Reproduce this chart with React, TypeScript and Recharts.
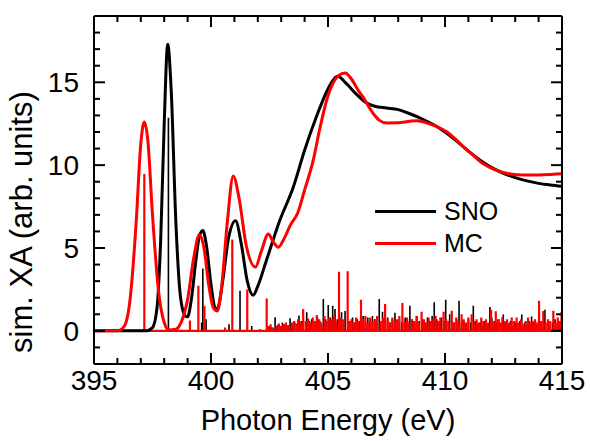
import { ComposedChart, Line, ReferenceLine, XAxis, YAxis } from "recharts";

const FONT = "'Liberation Sans', Arial, sans-serif";
const SNO_COLOR = "#000000";
const MC_COLOR = "#ff0000";

const X_DOMAIN: [number, number] = [395, 415];
const Y_DOMAIN: [number, number] = [-2, 19];
const X_TICKS = [395, 400, 405, 410, 415];
const Y_TICKS = [0, 5, 10, 15];
const X_MINOR = [395, 396, 397, 398, 399, 400, 401, 402, 403, 404, 405, 406, 407, 408, 409, 410, 411, 412, 413, 414, 415];
const Y_MINOR = [-2, -1, 0, 1, 2, 3, 4, 5, 6, 7, 8, 9, 10, 11, 12, 13, 14, 15, 16, 17, 18, 19];

// broadened spectra [energy, intensity]
const SNO_CURVE: [number, number][] = [
  [395, 0], [397.2, 0], [397.5, 0.2], [397.7, 1.5], [397.85, 5.5], [398.0, 12.5],
  [398.15, 17.3], [398.3, 14.5], [398.5, 6.5], [398.7, 2.0], [398.9, 0.9], [399.0, 0.85],
  [399.15, 1.8], [399.35, 4.2], [399.5, 5.7], [399.65, 6.05], [399.8, 5.2], [400.0, 2.8],
  [400.2, 1.3], [400.3, 1.4], [400.5, 3.0], [400.75, 5.6], [401.05, 6.65], [401.3, 5.2],
  [401.55, 3.0], [401.8, 2.15], [402.0, 2.7], [402.38, 4.3], [402.95, 6.7], [403.5, 8.6],
  [404.0, 10.9], [404.5, 12.9], [405.0, 14.6], [405.4, 15.36],
  [405.8, 14.9], [406.2, 14.3], [406.6, 13.8], [407.0, 13.55], [407.5, 13.45], [408.0, 13.35],
  [408.5, 13.1], [409.0, 12.8], [409.5, 12.45], [410.0, 12.0], [410.5, 11.45], [411.0, 10.85],
  [411.5, 10.3], [412.0, 9.85], [412.5, 9.5], [413.0, 9.25], [413.5, 9.05], [414.0, 8.9],
  [414.5, 8.8], [415, 8.72],
];

const MC_CURVE: [number, number][] = [
  [395, 0], [396.0, 0], [396.3, 0.3], [396.55, 2.0], [396.8, 6.5], [397.0, 11.3],
  [397.15, 12.6], [397.3, 11.5], [397.5, 7.0], [397.75, 2.5], [398.0, 0.5], [398.2, 0.05],
  [398.5, 0.1], [398.75, 0.6], [399.0, 1.9], [399.25, 4.3], [399.5, 5.8], [399.7, 5.0],
  [399.9, 2.8], [400.1, 1.4], [400.27, 1.2], [400.45, 2.6], [400.7, 6.6], [400.95, 9.35],
  [401.2, 8.0], [401.5, 5.2], [401.9, 3.85], [402.15, 4.8], [402.45, 5.85], [402.65, 5.4],
  [402.88, 5.05], [403.1, 5.5], [403.4, 6.4], [403.7, 7.1], [404.0, 8.5], [404.37, 10.3],
  [404.65, 12.2], [404.94, 13.9], [405.2, 14.9], [405.45, 15.4], [405.73, 15.56],
  [406.0, 15.2], [406.3, 14.5], [406.5, 14.1], [406.94, 13.1], [407.2, 12.7], [407.5, 12.55],
  [408.0, 12.56], [408.5, 12.65], [408.8, 12.68], [409.36, 12.48], [410.07, 12.02],
  [410.5, 11.5], [410.78, 11.12], [411.2, 10.6], [411.64, 10.08], [412.0, 9.8], [412.49, 9.56],
  [413.06, 9.42], [413.6, 9.4], [414.2, 9.42], [415, 9.48],
];

// stick spectra [energy, oscillator strength]
const SNO_STICKS: [number, number][] = [
  [398.18, 12.86], [399.6, 0.5], [399.65, 3.76], [399.79, 0.7], [400.77, 0.4], [401.24, 2.42],
  [401.74, 0.3], [402.1, 0.1], [402.5, 0.3], [402.6, 0.2], [402.74, 0.82], [402.85, 0.35],
  [402.95, 0.3], [403.05, 0.5], [403.15, 0.4], [403.25, 0.3], [403.38, 0.76], [403.48, 0.45],
  [403.58, 0.5], [403.68, 0.4], [403.76, 0.92], [403.86, 0.6], [404.09, 1.12], [404.2, 0.6],
  [404.3, 0.7], [404.42, 0.5], [404.55, 0.8], [404.65, 0.6], [404.8, 1.92], [404.9, 0.7],
  [405.01, 1.56], [405.1, 0.8], [405.2, 1.52], [405.3, 1.32], [405.4, 0.7], [405.58, 1.12],
  [405.73, 1.2], [405.95, 0.6], [406.05, 0.8], [406.15, 0.5], [406.25, 0.7], [406.35, 0.6],
  [406.5, 0.9], [406.6, 0.5], [406.7, 0.8], [406.8, 0.6], [406.9, 0.9], [407.0, 0.7],
  [407.1, 0.8], [407.19, 1.92], [407.33, 1.16], [407.45, 0.6], [407.55, 0.8], [407.65, 0.5],
  [407.75, 0.7], [407.86, 1.1], [407.95, 0.6], [408.05, 0.7], [408.15, 0.5], [408.3, 0.8],
  [408.4, 0.6], [408.5, 1.52], [408.6, 0.7], [408.7, 0.5], [408.8, 0.9], [408.9, 0.6],
  [409.05, 0.7], [409.15, 0.5], [409.25, 0.8], [409.35, 0.6], [409.45, 0.9], [409.54, 1.72],
  [409.65, 0.7], [409.75, 0.5], [409.85, 0.8], [409.95, 0.6], [410.03, 1.88], [410.2, 1.0],
  [410.3, 0.6], [410.4, 0.5], [410.5, 0.7], [410.6, 1.82], [410.7, 0.5], [410.8, 0.6],
  [410.9, 0.4], [411.0, 0.7], [411.1, 0.5], [411.21, 1.52], [411.3, 0.6], [411.4, 0.4],
  [411.5, 0.5], [411.6, 0.3], [411.7, 0.6], [411.8, 0.4], [411.92, 1.44], [412.0, 0.8],
  [412.1, 0.6], [412.2, 0.5], [412.3, 0.7], [412.4, 0.4], [412.49, 0.98], [412.6, 0.5],
  [412.7, 0.4], [412.8, 0.6], [412.9, 0.3], [413.0, 0.5], [413.1, 0.4], [413.2, 0.6],
  [413.28, 0.98], [413.4, 0.5], [413.5, 0.4], [413.6, 0.6], [413.7, 0.86], [413.8, 0.5],
  [413.9, 0.4], [414.0, 0.6], [414.1, 0.3], [414.2, 0.5], [414.27, 1.28], [414.4, 0.6],
  [414.5, 0.4], [414.6, 0.5], [414.7, 0.7], [414.8, 0.4], [414.9, 0.5], [414.99, 0.8],
];

const MC_STICKS: [number, number][] = [
  [397.15, 9.46], [399.1, 0.62], [399.46, 2.72], [399.72, 1.5], [400.6, 0.2], [400.91, 5.52],
  [401.55, 2.5], [402.38, 1.96], [402.45, 0.3], [402.55, 0.4], [402.65, 0.2], [402.8, 0.3],
  [402.9, 0.45], [403.0, 0.3], [403.1, 0.4], [403.2, 0.5], [403.3, 0.35], [403.45, 0.5],
  [403.55, 0.6], [403.65, 0.45], [403.72, 0.7], [403.85, 0.5], [403.94, 1.32], [404.05, 0.6],
  [404.15, 0.75], [404.25, 0.5], [404.35, 0.8], [404.45, 0.6], [404.52, 0.96], [404.62, 0.7],
  [404.72, 0.5], [404.85, 0.9], [404.95, 0.6], [405.05, 0.8], [405.15, 0.7], [405.25, 0.9],
  [405.35, 0.6], [405.47, 3.56], [405.55, 0.8], [405.65, 0.7], [405.84, 3.6], [405.92, 0.6],
  [406.0, 0.7], [406.1, 0.5], [406.2, 0.8], [406.3, 0.6], [406.41, 1.88], [406.5, 0.7],
  [406.6, 0.9], [406.7, 0.5], [406.8, 0.8], [406.9, 0.6], [407.0, 0.7], [407.1, 0.9],
  [407.25, 0.6], [407.35, 0.8], [407.44, 1.62], [407.55, 0.7], [407.65, 0.5], [407.75, 0.8],
  [407.85, 0.6], [407.95, 0.7], [408.05, 0.9], [408.18, 1.68], [408.28, 0.6], [408.38, 0.8],
  [408.45, 0.5], [408.58, 0.7], [408.68, 0.6], [408.78, 0.9], [408.88, 0.5], [409.0, 1.16],
  [409.1, 0.7], [409.2, 0.5], [409.3, 0.8], [409.4, 0.6], [409.5, 0.7], [409.6, 0.9],
  [409.7, 0.6], [409.8, 0.8], [409.94, 1.16], [410.05, 0.7], [410.15, 0.6], [410.29, 1.22],
  [410.38, 0.5], [410.48, 0.8], [410.58, 0.6], [410.71, 1.0], [410.8, 0.7], [410.9, 0.5],
  [411.0, 0.8], [411.14, 1.0], [411.25, 0.6], [411.35, 0.7], [411.45, 0.5], [411.55, 0.8],
  [411.65, 0.6], [411.75, 0.7], [411.85, 0.5], [411.97, 1.28], [412.07, 0.6], [412.17, 1.18],
  [412.27, 0.7], [412.37, 0.5], [412.45, 0.8], [412.55, 0.6], [412.65, 0.7], [412.75, 0.5],
  [412.85, 0.8], [412.95, 0.6], [413.06, 0.8], [413.15, 0.5], [413.25, 0.7], [413.35, 0.4],
  [413.45, 0.6], [413.55, 0.8], [413.65, 0.5], [413.75, 0.6], [413.85, 0.7], [413.95, 0.5],
  [414.02, 1.82], [414.1, 0.6], [414.2, 1.2], [414.3, 0.5], [414.4, 0.7], [414.5, 0.6],
  [414.63, 1.22], [414.72, 0.5], [414.82, 0.8], [414.9, 0.6], [414.98, 1.16],
];

const SERIES = [
  { name: "SNO", color: SNO_COLOR },
  { name: "MC", color: MC_COLOR },
];

const toPoints = (rows: [number, number][]) => rows.map(([x, y]) => ({ x, y }));

// each stick goes up from zero and back down
const toSticks = (rows: [number, number][]) => [
  { x: X_DOMAIN[0], y: 0 },
  ...rows.flatMap(([x, y]) => [
    { x, y: 0 },
    { x, y },
    { x, y: 0 },
  ]),
  { x: X_DOMAIN[1], y: 0 },
];

// inward tick lengths in data units (plot is 468 x 348 px)
const X_PER_PX = (X_DOMAIN[1] - X_DOMAIN[0]) / 468;
const Y_PER_PX = (Y_DOMAIN[1] - Y_DOMAIN[0]) / 348;
const MAJOR = 11;
const MINOR = 6;

function tickSegments() {
  const segs: { x1: number; y1: number; x2: number; y2: number }[] = [];
  X_MINOR.forEach((t) => {
    const len = (X_TICKS.includes(t) ? MAJOR : MINOR) * Y_PER_PX;
    segs.push({ x1: t, y1: Y_DOMAIN[0], x2: t, y2: Y_DOMAIN[0] + len });
    segs.push({ x1: t, y1: Y_DOMAIN[1], x2: t, y2: Y_DOMAIN[1] - len });
  });
  Y_MINOR.forEach((t) => {
    const len = (t % 5 === 0 ? MAJOR : MINOR) * X_PER_PX;
    segs.push({ x1: X_DOMAIN[0], y1: t, x2: X_DOMAIN[0] + len, y2: t });
    segs.push({ x1: X_DOMAIN[1], y1: t, x2: X_DOMAIN[1] - len, y2: t });
  });
  return segs;
}

function LegendBox() {
  return (
    <div
      style={{
        position: "absolute",
        left: 375,
        top: 195,
        fontFamily: FONT,
        fontSize: 25,
        color: "#000",
      }}
    >
      {SERIES.map((s) => (
        <div key={s.name} style={{ display: "flex", alignItems: "center", height: 32 }}>
          <div style={{ width: 61, height: 3, background: s.color, marginRight: 8 }} />
          <span>{s.name}</span>
        </div>
      ))}
    </div>
  );
}

export default function App() {
  const tickStyle = { fontSize: 28, fill: "#000", fontFamily: FONT };
  return (
    <div style={{ position: "absolute", left: 0, top: 0, width: 590, height: 441, background: "#fff" }}>
      <ComposedChart
        width={590}
        height={441}
        margin={{ top: 16, right: 28, bottom: 0, left: 0 }}
      >
        <XAxis
          type="number"
          dataKey="x"
          domain={X_DOMAIN}
          ticks={X_TICKS}
          allowDataOverflow
          tickLine={false}
          axisLine={false}
          tickSize={0}
          tickMargin={6}
          height={77}
          tick={tickStyle}
          label={{
            value: "Photon Energy (eV)",
            position: "insideBottom",
            offset: 11,
            style: { fontSize: 29, fill: "#000", fontFamily: FONT },
          }}
        />
        <YAxis
          type="number"
          domain={Y_DOMAIN}
          ticks={Y_TICKS}
          allowDataOverflow
          tickLine={false}
          axisLine={false}
          tickSize={0}
          tickMargin={15}
          width={94}
          tick={tickStyle}
          label={{
            content: ({ viewBox }: any) => {
              const cx = 32;
              const cy = (viewBox?.y ?? 16) + (viewBox?.height ?? 348) / 2 + 32;
              return (
                <text
                  x={cx}
                  y={cy}
                  transform={`rotate(-90, ${cx}, ${cy})`}
                  textAnchor="middle"
                  style={{ fontSize: 31, fill: "#000", fontFamily: FONT }}
                >
                  sim. XA (arb. units)
                </text>
              );
            },
          }}
        />
        <Line
          data={toSticks(SNO_STICKS)}
          dataKey="y"
          type="linear"
          stroke={SNO_COLOR}
          strokeWidth={1.6}
          dot={false}
          isAnimationActive={false}
        />
        <Line
          data={toSticks(MC_STICKS)}
          dataKey="y"
          type="linear"
          stroke={MC_COLOR}
          strokeWidth={2.2}
          dot={false}
          isAnimationActive={false}
        />
        <Line
          data={toPoints(SNO_CURVE)}
          dataKey="y"
          name="SNO"
          type="monotone"
          stroke={SNO_COLOR}
          strokeWidth={3}
          dot={false}
          isAnimationActive={false}
        />
        <Line
          data={toPoints(MC_CURVE)}
          dataKey="y"
          name="MC"
          type="monotone"
          stroke={MC_COLOR}
          strokeWidth={3}
          dot={false}
          isAnimationActive={false}
        />
        {tickSegments().map((s, i) => (
          <ReferenceLine
            key={i}
            segment={[
              { x: s.x1, y: s.y1 },
              { x: s.x2, y: s.y2 },
            ]}
            stroke="#000"
            strokeWidth={2}
            ifOverflow="visible"
          />
        ))}
        <ReferenceLine x={X_DOMAIN[0]} stroke="#000" strokeWidth={2} ifOverflow="visible" />
        <ReferenceLine x={X_DOMAIN[1]} stroke="#000" strokeWidth={2} ifOverflow="visible" />
        <ReferenceLine y={Y_DOMAIN[0]} stroke="#000" strokeWidth={2} ifOverflow="visible" />
        <ReferenceLine y={Y_DOMAIN[1]} stroke="#000" strokeWidth={2} ifOverflow="visible" />
      </ComposedChart>
      <LegendBox />
    </div>
  );
}
